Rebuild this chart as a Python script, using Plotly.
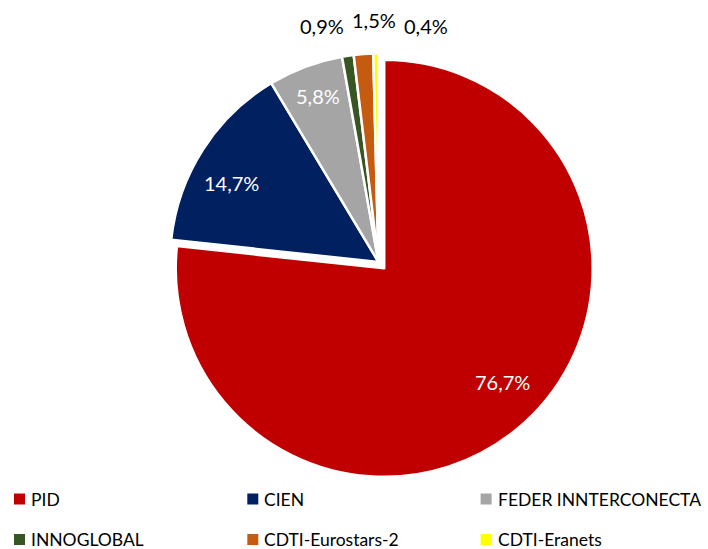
import plotly.graph_objects as go

labels = ["PID", "CIEN", "FEDER INNTERCONECTA", "INNOGLOBAL", "CDTI-Eurostars-2", "CDTI-Eranets"]
values = [76.7, 14.7, 5.8, 0.9, 1.5, 0.4]
colors = ["#C00000", "#002060", "#A5A5A5", "#375623", "#C55A11", "#FFFF00"]

W, H = 708, 549
FONT = "Lato, Open Sans, sans-serif"

pull = [0.041, 0, 0, 0, 0, 0]
# data-label centres in pixels (layout positions, not data)
label_xy = [(502, 382), (232, 183), (318, 96), (322, 26), (374, 20), (426, 26)]
label_color = ["white", "white", "white", "black", "black", "black"]

# pie geometry (pixels)
cx, cy, r = 378.5, 262, 208.5
half = r * (1 + max(pull))

fig = go.Figure(go.Pie(
    labels=labels, values=values, sort=False, direction="clockwise", rotation=0,
    pull=pull,
    marker=dict(colors=colors, line=dict(color="white", width=2.5)),
    textinfo="none",
    hoverinfo="label+percent",
    domain=dict(x=[(cx - half) / W, (cx + half) / W],
                y=[(H - cy - half) / H, (H - cy + half) / H]),
    showlegend=False,
))

shapes, annotations = [], []

# percentage labels
for v, (lx, ly), tc in zip(values, label_xy, label_color):
    annotations.append(dict(text=f"{v:.1f}%".replace(".", ","), xref="paper", yref="paper",
                            x=lx / W, y=(H - ly) / H, xanchor="center", yanchor="middle",
                            showarrow=False, font=dict(size=20, color=tc, family=FONT)))

# custom legend: 3 columns x 2 rows
for i, (lab, col) in enumerate(zip(labels, colors)):
    c, rw = i % 3, i // 3
    x0 = 14 + c * 233.3
    yc = 499 + rw * 40.5
    s = 11
    shapes.append(dict(type="rect", xref="paper", yref="paper",
                       x0=x0 / W, x1=(x0 + s) / W,
                       y0=(H - yc - s / 2) / H, y1=(H - yc + s / 2) / H,
                       fillcolor=col, line=dict(width=0)))
    annotations.append(dict(text=lab, xref="paper", yref="paper",
                            x=(x0 + 16) / W, y=(H - yc) / H,
                            xanchor="left", yanchor="middle", showarrow=False,
                            height=17, borderpad=0, valign="middle",
                            font=dict(size=17.5, color="black", family=FONT)))

fig.update_layout(
    width=W, height=H, margin=dict(l=0, r=0, t=0, b=0),
    paper_bgcolor="white", plot_bgcolor="white",
    shapes=shapes, annotations=annotations,
)

fig.write_html("out.html", config={"displayModeBar": False},
               post_script="document.body.style.margin='0';")
